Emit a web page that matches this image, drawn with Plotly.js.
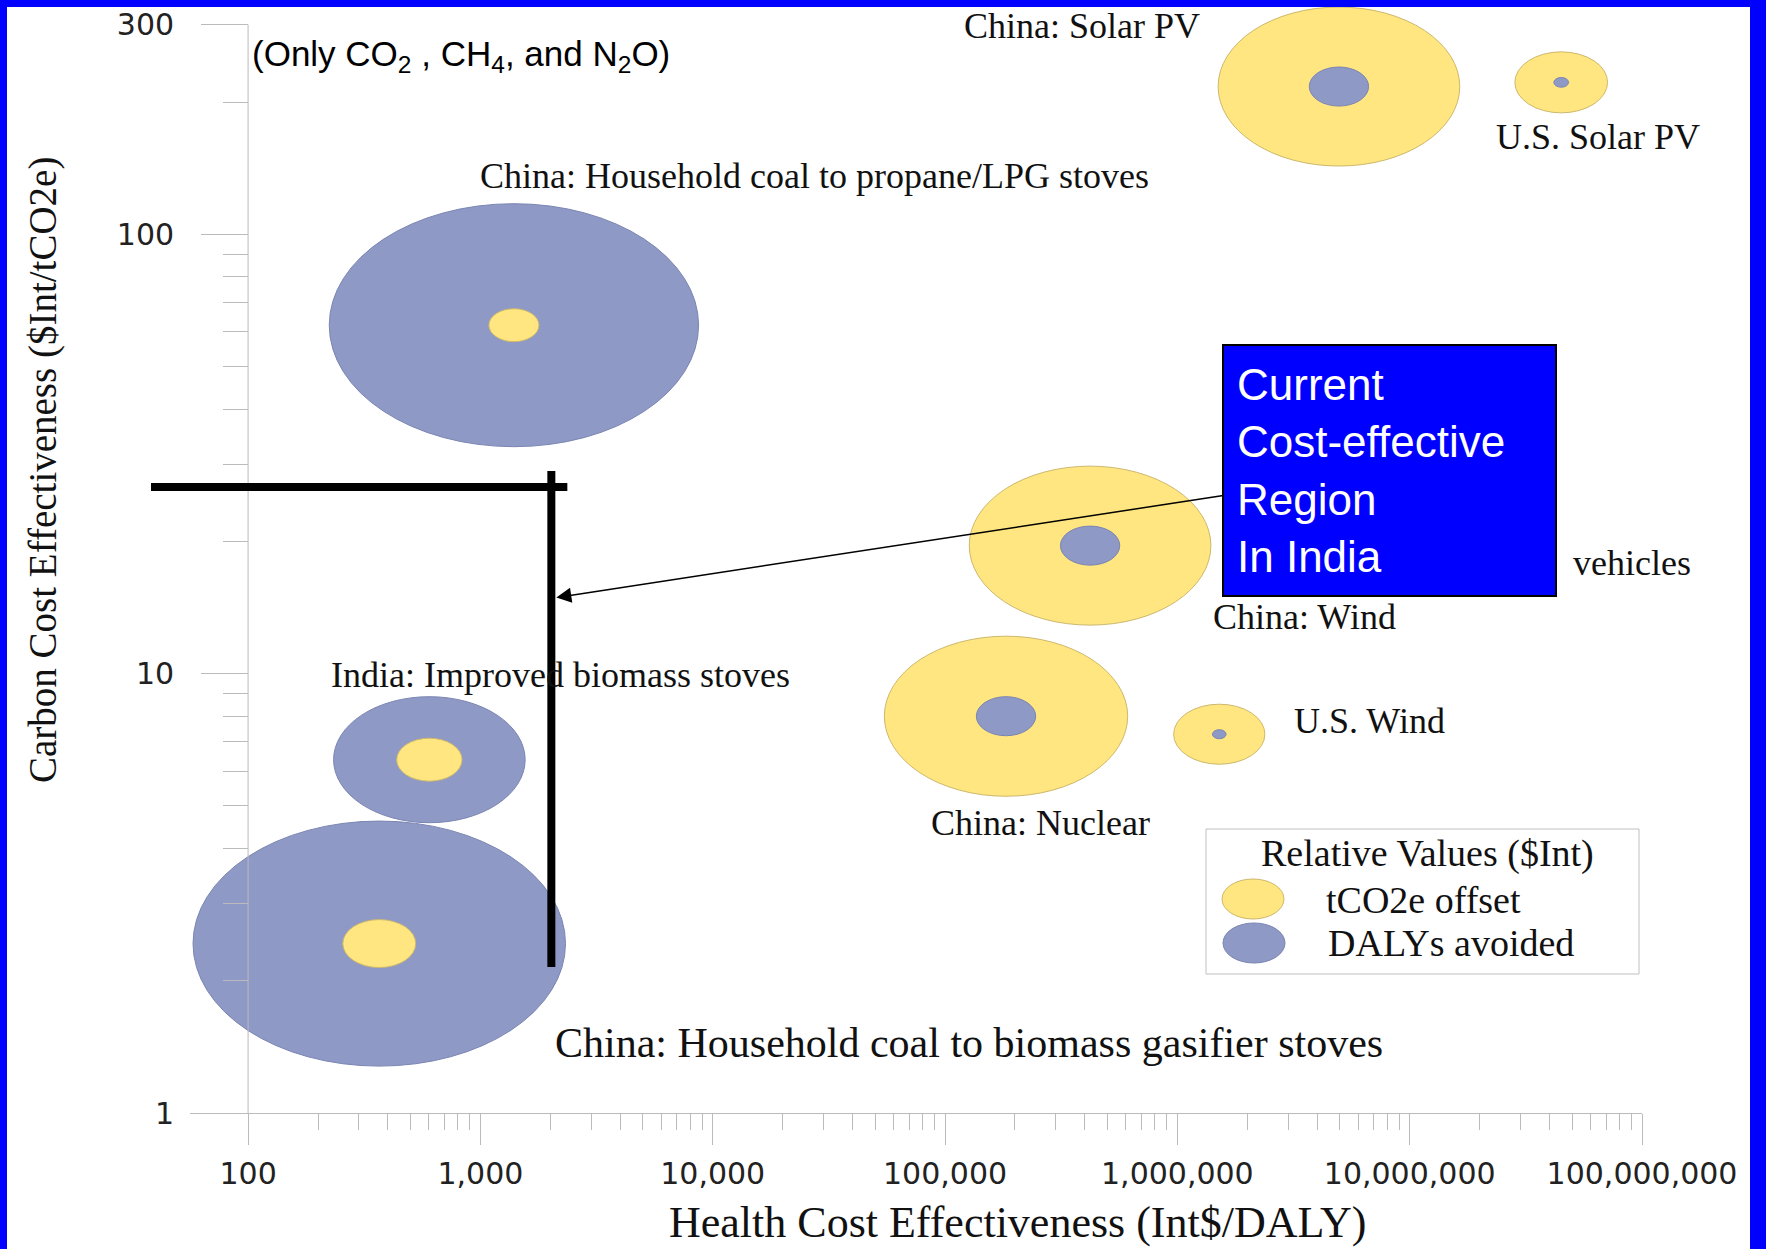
<!DOCTYPE html>
<html>
<head>
<meta charset="utf-8">
<script src="https://cdn.plot.ly/plotly-3.0.1.min.js"></script>
<style>
  html, body { margin: 0; padding: 0; background: #0000FF; width: 1766px; height: 1249px; overflow: hidden; }
  #chart { position: absolute; left: 7px; top: 7px; width: 1743px; height: 1242px; background: #ffffff; }
</style>
</head>
<body>
<div id="chart"></div>
<script>
// ---------------- data ----------------
const projects = [
  'China: Household coal to propane/LPG stoves',
  'China: Solar PV',
  'U.S. Solar PV',
  'China: Wind',
  'China: Nuclear',
  'U.S. Wind',
  'India: Improved biomass stoves',
  'China: Household coal to biomass gasifier stoves'
];
// Health cost effectiveness (Int$/DALY)
const healthCE = [1394, 4960000, 44900000, 421000, 183000, 1515000, 603, 367];
// Carbon cost effectiveness ($Int/tCO2e)
const carbonCE = [62.1, 216.9, 221.7, 19.56, 8.0, 7.28, 6.37, 2.43];
// Relative values ($Int), proportional to bubble area
const tco2Value = [1.84, 42.8, 6.3, 42.8, 43.4, 6.1, 3.13, 3.9];
const dalyValue = [100, 2.58, 0.16, 2.58, 2.58, 0.137, 26.9, 101.7];

const xTickVals = [100, 1000, 10000, 100000, 1000000, 10000000, 100000000];
const xTickText = ['100', '1,000', '10,000', '100,000', '1,000,000', '10,000,000', '100,000,000'];
const yTickVals = [1, 10, 100, 300];
const yTickText = ['1', '10', '100', '300'];

// cost-effectiveness thresholds drawn as the thick black lines
const thresholdHealth = 2020;      // Int$/DALY
const thresholdCarbon = 26.6;      // $Int/tCO2e
const arrowTargetCarbon = 14.9;    // where the pointer arrow hits the vertical line
const verticalLineBottomCarbon = 2.15;

const boxLines = ['Current', 'Cost-effective', 'Region', 'In India'];
const legendTitle = 'Relative Values ($Int)';
const legendNames = ['tCO2e offset', 'DALYs avoided'];
const noteText = '(Only CO<sub>2</sub> , CH<sub>4</sub>, and N<sub>2</sub>O)';
const hiddenLabelTail = 'vehicles';
const xTitle = 'Health Cost Effectiveness (Int$/DALY)';
const yTitle = 'Carbon Cost Effectiveness ($Int/tCO2e)';

// ---------------- styles / layout constants ----------------
const W = 1743, H = 1242, OFF = 7;
const M = { l: 183, r: 108, t: 0, b: 136 };
const PW = W - M.l - M.r, PH = H - M.t - M.b;
const X_RANGE = [1.75, 8];
const Y_RANGE = [0, 2.5173];
const DEC_X = PW / (X_RANGE[1] - X_RANGE[0]);   // px per decade
const DEC_Y = PH / (Y_RANGE[1] - Y_RANGE[0]);
const SERIF = '"Liberation Serif", "Times New Roman", serif';
const SANS = '"Liberation Sans", Arial, sans-serif';
const TICKFONT = '"DejaVu Sans", "Liberation Sans", sans-serif';
const YELLOW = '#FFE680', YELLOW_LINE = '#CDB86C';
const BLUE = '#8E99C6', BLUE_LINE = '#7A85B2';
const AXIS_GRAY = '#BBBBBB';
const BUBBLE_H100 = 243;     // ellipse height (px) for relative value 100
const BUBBLE_ASPECT = 1.52;  // the figure is stretched horizontally

// label offsets (px) from bubble centre, font size
const labelStyle = [
  { dx: 301, dy: 149, size: 36 },
  { dx: -257, dy: 61, size: 36 },
  { dx: 37, dy: -55, size: 36 },
  { dx: 214, dy: -71, size: 36 },
  { dx: 34, dy: -107, size: 36 },
  { dx: 150, dy: 13, size: 36 },
  { dx: 131, dy: 85, size: 36 },
  { dx: 590, dy: -99, size: 42 }
];

// image pixel -> paper coordinate helpers for overlay items
const px = xImg => (xImg - OFF - M.l) / PW;
const py = yImg => 1 - (yImg - OFF - M.t) / PH;
// data -> paper (log axes), used for overlay lines that leave the plot area
const dpx = (v, shiftPx) => (Math.log10(v) + (shiftPx || 0) / DEC_X - X_RANGE[0]) / (X_RANGE[1] - X_RANGE[0]);
const dpy = (v, shiftPx) => (Math.log10(v) + (shiftPx || 0) / DEC_Y - Y_RANGE[0]) / (Y_RANGE[1] - Y_RANGE[0]);

// minor tick positions
const xMinor = [];
for (let e = 2; e < 8; e++) for (let d = 2; d <= 9; d++) xMinor.push(d * Math.pow(10, e));
const yMinor = [];
for (let e = 0; e < 3; e++) for (let d = 2; d <= 9; d++) { const v = d * Math.pow(10, e); if (v < 300) yMinor.push(v); }

// ---------------- shapes: bubbles ----------------
const shapes = [];
function ellipse(xv, yv, value, fill, line) {
  const h = BUBBLE_H100 * Math.sqrt(value / 100);
  const w = h * BUBBLE_ASPECT;
  const fx = Math.pow(10, (w / 2) / DEC_X);
  const fy = Math.pow(10, (h / 2) / DEC_Y);
  return {
    type: 'circle', layer: 'below', xref: 'x', yref: 'y',
    x0: xv / fx, x1: xv * fx, y0: yv / fy, y1: yv * fy,
    fillcolor: fill, line: { color: line, width: 1 }
  };
}
projects.forEach((p, i) => {
  const pair = [
    { v: tco2Value[i], fill: YELLOW, line: YELLOW_LINE },
    { v: dalyValue[i], fill: BLUE, line: BLUE_LINE }
  ].sort((a, b) => b.v - a.v);
  pair.forEach(b => shapes.push(ellipse(healthCE[i], carbonCE[i], b.v, b.fill, b.line)));
});
// y axis line (from 1 to 300 only)
shapes.push({ type: 'line', layer: 'below', xref: 'x', yref: 'y',
  x0: xTickVals[0], x1: xTickVals[0], y0: yTickVals[0], y1: yTickVals[yTickVals.length - 1],
  line: { color: AXIS_GRAY, width: 1 } });
// thick threshold lines
shapes.push({ type: 'line', layer: 'above', xref: 'paper', yref: 'paper',
  x0: px(151), x1: dpx(thresholdHealth, 16), y0: dpy(thresholdCarbon), y1: dpy(thresholdCarbon),
  line: { color: '#000000', width: 8 } });
shapes.push({ type: 'line', layer: 'above', xref: 'x', yref: 'y',
  x0: thresholdHealth, x1: thresholdHealth,
  y0: verticalLineBottomCarbon, y1: thresholdCarbon * Math.pow(10, 16 / DEC_Y),
  line: { color: '#000000', width: 8 } });
// legend frame and swatches
shapes.push({ type: 'rect', layer: 'above', xref: 'paper', yref: 'paper',
  x0: px(1206), x1: px(1639), y0: py(829), y1: py(974),
  fillcolor: 'rgba(0,0,0,0)', line: { color: '#C0C0C0', width: 1 } });
shapes.push({ type: 'circle', layer: 'above', xref: 'paper', yref: 'paper', xsizemode: 'pixel', ysizemode: 'pixel',
  xanchor: px(1253), yanchor: py(899), x0: -31, x1: 31, y0: -20, y1: 20,
  fillcolor: YELLOW, line: { color: YELLOW_LINE, width: 1 } });
shapes.push({ type: 'circle', layer: 'above', xref: 'paper', yref: 'paper', xsizemode: 'pixel', ysizemode: 'pixel',
  xanchor: px(1254), yanchor: py(943), x0: -31, x1: 31, y0: -20, y1: 20,
  fillcolor: BLUE, line: { color: BLUE_LINE, width: 1 } });

// ---------------- annotations ----------------
const annotations = [];
projects.forEach((p, i) => {
  const s = labelStyle[i];
  annotations.push({
    x: Math.log10(healthCE[i]), y: Math.log10(carbonCE[i]), xref: 'x', yref: 'y',
    xshift: s.dx, yshift: s.dy, xanchor: 'center', yanchor: 'middle',
    text: p, showarrow: false, font: { family: SERIF, size: s.size, color: '#111111' }
  });
});
annotations.push({ x: px(1571), y: py(563), xref: 'paper', yref: 'paper', xanchor: 'left', yanchor: 'middle',
  text: hiddenLabelTail, showarrow: false, font: { family: SERIF, size: 36, color: '#111111' } });

// note
annotations.push({ x: px(250), y: py(56), xref: 'paper', yref: 'paper', xanchor: 'left', yanchor: 'middle',
  text: noteText, showarrow: false, font: { family: SANS, size: 35, color: '#000000' } });

// blue call-out box with its pointer arrow
const BOX = { left: 1222, top: 343, w: 335, h: 253, border: 2, pad: 13 };
const headImgX = 556, headImgY = 597;
annotations.push({
  x: Math.log10(thresholdHealth), y: Math.log10(arrowTargetCarbon), xref: 'x', yref: 'y', xshift: 5,
  ax: BOX.left + BOX.w / 2 - headImgX, ay: BOX.top + BOX.h / 2 - headImgY,
  xanchor: 'center', yanchor: 'middle',
  showarrow: true, arrowhead: 2, arrowsize: 2, arrowwidth: 1.5, arrowcolor: '#000000', standoff: 0,
  text: boxLines.join('<br>'), align: 'left', valign: 'middle',
  width: BOX.w - 2 * (BOX.border + BOX.pad), height: BOX.h - 2 * (BOX.border + BOX.pad),
  bgcolor: '#0000FF', bordercolor: '#000000', borderwidth: BOX.border, borderpad: BOX.pad,
  font: { family: SANS, size: 44, color: '#FFFFFF' }
});

// legend texts
annotations.push({ x: px(1427.5), y: py(853), xref: 'paper', yref: 'paper', xanchor: 'center', yanchor: 'middle',
  text: legendTitle, showarrow: false, font: { family: SERIF, size: 38, color: '#111111' } });
annotations.push({ x: px(1324), y: py(900), xref: 'paper', yref: 'paper', xanchor: 'left', yanchor: 'middle',
  text: legendNames[0], showarrow: false, font: { family: SERIF, size: 38, color: '#111111' } });
annotations.push({ x: px(1326), y: py(943), xref: 'paper', yref: 'paper', xanchor: 'left', yanchor: 'middle',
  text: legendNames[1], showarrow: false, font: { family: SERIF, size: 38, color: '#111111' } });

// axis titles
annotations.push({ x: px(1017.6), y: py(1222), xref: 'paper', yref: 'paper', xanchor: 'center', yanchor: 'middle',
  text: xTitle, showarrow: false, font: { family: SERIF, size: 44, color: '#111111' } });
annotations.push({ x: px(43), y: py(470), xref: 'paper', yref: 'paper', xanchor: 'center', yanchor: 'middle',
  textangle: -90, text: yTitle, showarrow: false, font: { family: SERIF, size: 39, color: '#111111' } });

// ---------------- traces (hover carriers at bubble centres) ----------------
const traces = [{
  type: 'scatter', mode: 'markers', x: healthCE, y: carbonCE,
  text: projects,
  customdata: projects.map((p, i) => [tco2Value[i], dalyValue[i]]),
  hovertemplate: '%{text}<br>Health: %{x:,.0f} Int$/DALY<br>Carbon: %{y:.1f} $Int/tCO2e<br>tCO2e offset: %{customdata[0]}<br>DALYs avoided: %{customdata[1]}<extra></extra>',
  marker: { size: 14, opacity: 0 }, showlegend: false
}];

const layout = {
  width: W, height: H,
  margin: { l: M.l, r: M.r, t: M.t, b: M.b, pad: 0 },
  paper_bgcolor: '#FFFFFF', plot_bgcolor: '#FFFFFF',
  showlegend: false, hovermode: 'closest',
  xaxis: {
    type: 'log', range: X_RANGE, autorange: false,
    tickmode: 'array', tickvals: xTickVals, ticktext: xTickText,
    ticks: 'outside', ticklen: 31, tickwidth: 1, tickcolor: AXIS_GRAY,
    showline: true, linecolor: AXIS_GRAY, linewidth: 1,
    showgrid: false, zeroline: false, automargin: false,
    ticklabelstandoff: 3,
    tickfont: { family: TICKFONT, size: 30, color: '#222222' },
    minor: { tickmode: 'array', tickvals: xMinor, ticks: 'outside', ticklen: 16, tickwidth: 1, tickcolor: AXIS_GRAY, showgrid: false }
  },
  yaxis: {
    type: 'log', range: Y_RANGE, autorange: false,
    anchor: 'free', position: (Math.log10(xTickVals[0]) - X_RANGE[0]) / (X_RANGE[1] - X_RANGE[0]),
    tickmode: 'array', tickvals: yTickVals, ticktext: yTickText,
    ticks: 'outside', ticklen: 47, tickwidth: 1, tickcolor: AXIS_GRAY,
    showline: false, showgrid: false, zeroline: false, automargin: false,
    ticklabelstandoff: 21,
    tickfont: { family: TICKFONT, size: 30, color: '#222222' },
    minor: { tickmode: 'array', tickvals: yMinor, ticks: 'outside', ticklen: 25, tickwidth: 1, tickcolor: AXIS_GRAY, showgrid: false }
  },
  shapes: shapes,
  annotations: annotations
};

Plotly.newPlot('chart', traces, layout, { displayModeBar: false, responsive: false });
</script>
</body>
</html>
